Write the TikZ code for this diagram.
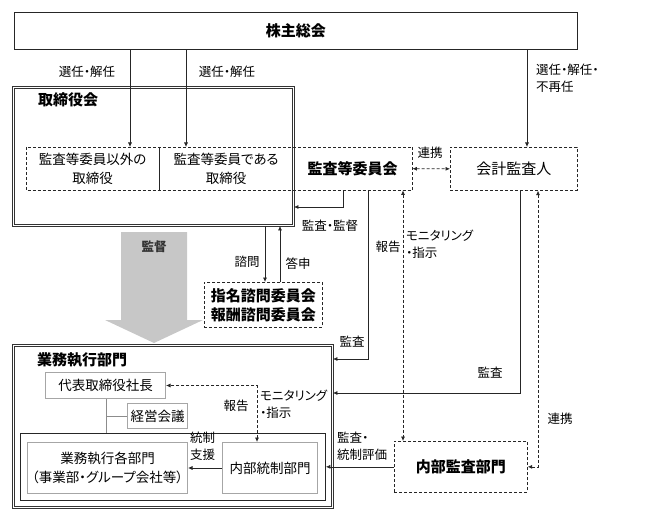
\documentclass[tikz,border=0pt]{standalone}
\usepackage{fontspec}
\setmainfont{Noto Sans CJK JP}[RawFeature=+palt]
\usetikzlibrary{arrows.meta,calc}
\begin{document}
\begin{tikzpicture}[x=1pt,y=-1pt,
  arr/.style={-{Latex[length=4.5pt,width=4pt]}, line width=0.7pt, draw=black!85},
  darr/.style={{Latex[length=4.5pt,width=4pt]}-{Latex[length=4.5pt,width=4pt]}, line width=0.7pt, draw=black!85, dash pattern=on 3pt off 2pt},
  lbl/.style={font=\fontsize{12.5}{16.5}\selectfont, inner sep=0pt, align=left},
  boxtxt/.style={font=\fontsize{13.5}{19}\selectfont, align=center},
  head/.style={font=\fontsize{15}{19}\selectfont\bfseries, align=center},
  corner/.style={anchor=north west, inner sep=0pt},
  dbox/.style={corner, draw=black!80, double, double distance=1.3pt, line width=0.9pt},
  dashbox/.style={corner, draw=black!85, dash pattern=on 3pt off 2pt, line width=0.7pt},
  graybox/.style={corner, draw=black!35, line width=1pt},
]
\useasboundingbox (0,0) rectangle (660,521);

% coordinates for connector columns
\coordinate (c1) at (130,0);
\coordinate (c2) at (186,0);
\coordinate (c3) at (527,0);
\coordinate (c4) at (343,207);
\coordinate (c6) at (265,0);
\coordinate (c7) at (280,0);
\coordinate (c8) at (368,359);
\coordinate (c9) at (403,0);
\coordinate (c10) at (520,393);
\coordinate (c11) at (538,0);
\coordinate (c12) at (257,0);
\coordinate (c13) at (106,0);

% boxes
\node[corner, draw=black!85, line width=0.8pt, minimum width=563pt, minimum height=37pt, head] (kabu) at (14,12) {株主総会};

\node[dbox, minimum width=280pt, minimum height=138pt] (tori) at (13,87) {};
\node[head, inner sep=0pt] (toriT) at (68,100) {取締役会};

\node[corner, minimum width=133pt, minimum height=43pt, boxtxt] (dir1) at (26,147) {監査等委員以外の\\取締役};
\node[corner, minimum width=134pt, minimum height=43pt, boxtxt] (dir2) at (159,147) {監査等委員である\\取締役};
\node[corner, minimum width=119pt, minimum height=43pt, head] (kansa) at (293,147) {監査等委員会};
\draw[draw=black!85, dash pattern=on 3pt off 2pt, line width=0.7pt] (dir1.north west) rectangle (kansa.south east);
\draw[draw=black!85, line width=0.7pt] (dir1.north east) -- (dir1.south east);

\node[dashbox, minimum width=127pt, minimum height=43pt, font=\fontsize{15}{19}\selectfont] (kaikei) at (450,147) {会計監査人};

\node[dashbox, minimum width=118pt, minimum height=45pt, head] (shimon) at (204,282) {指名諮問委員会\\報酬諮問委員会};

\node[dbox, minimum width=319pt, minimum height=162pt] (gyomu) at (13,345) {};
\node[head, inner sep=0pt] (gyomuT) at (82,360) {業務執行部門};

\node[graybox, minimum width=120pt, minimum height=26pt, boxtxt] (daihyo) at (45,372) {代表取締役社長};
\node[graybox, minimum width=60pt, minimum height=25pt, boxtxt] (keiei) at (127,403) {経営会議};
\node[corner, draw=black!85, line width=0.8pt, minimum width=305pt, minimum height=67pt] (inner) at (20,433) {};
\node[graybox, minimum width=160pt, minimum height=51pt, boxtxt] (kakubu) at (27,442) {業務執行各部門\\（事業部・グループ会社等）};
\node[graybox, minimum width=95pt, minimum height=51pt, boxtxt] (naibut) at (222,442) {内部統制部門};

\node[dashbox, minimum width=133pt, minimum height=51pt, head] (naibuk) at (394,441) {内部監査部門};

% gray block arrow
\fill[black!22] (121,232) -- (187,232) -- (187,320) -- (203,320) -- (154,343) -- (105,320) -- (121,320) -- cycle;
\node[font=\fontsize{12.5}{14}\selectfont\bfseries, text=black!80] (kantoku) at (154,247) {監督};

% connectors
\draw[arr] (kabu.south -| c1) -- (dir1.north -| c1);
\draw[arr] (kabu.south -| c2) -- (dir2.north -| c2);
\draw[arr] (kabu.south -| c3) -- (kaikei.north -| c3);
\draw[darr] (kansa.east) -- (kaikei.west);
\draw[arr] (kansa.south -| c4) |- (tori.east |- c4);
\draw[arr] (tori.south -| c6) -- (shimon.north -| c6);
\draw[arr] (shimon.north -| c7) -- (tori.south -| c7);
\draw[arr] (kansa.south -| c8) |- (gyomu.east |- c8);
\draw[darr] (kansa.south -| c9) -- (naibuk.north -| c9);
\draw[arr] (kaikei.south -| c10) |- (gyomu.east |- c10);
\draw[darr] (kaikei.south -| c11) |- (naibuk.east);
\draw[arr] (naibuk.west) -- (inner.east |- naibuk.west);
\draw[arr] (naibut.west) -- (kakubu.east |- naibut.west);
\draw[darr] (naibut.north -| c12) |- (daihyo.east);
\draw[black!45, line width=0.8pt] (daihyo.south -| c13) -- (inner.north -| c13);
\draw[black!45, line width=0.8pt] (keiei.west) -- (keiei.west -| c13);

% labels
\node[lbl] (l1) at (87,72) {選任・解任};
\node[lbl] (l2) at (227,72) {選任・解任};
\node[lbl, anchor=north west] (l3) at (536,64) {選任・解任・\\不再任};
\node[lbl] (l4) at (430,153) {連携};
\node[lbl] (l5) at (330,226) {監査・監督};
\node[lbl] (l6) at (388,247) {報告};
\node[lbl, anchor=north west] (l7) at (406,230) {モニタリング\\・指示};
\node[lbl] (l8) at (247,262) {諮問};
\node[lbl] (l9) at (298,264) {答申};
\node[lbl] (l10) at (352,342) {監査};
\node[lbl] (l11) at (490,373) {監査};
\node[lbl] (l12) at (560,419) {連携};
\node[lbl, anchor=north west] (l13) at (337,432) {監査・\\統制評価};
\node[lbl, anchor=north west] (l14) at (190,432) {統制\\支援};
\node[lbl] (l15) at (236,406) {報告};
\node[lbl, anchor=north west] (l16) at (260,390) {モニタリング\\・指示};
\end{tikzpicture}
\end{document}
